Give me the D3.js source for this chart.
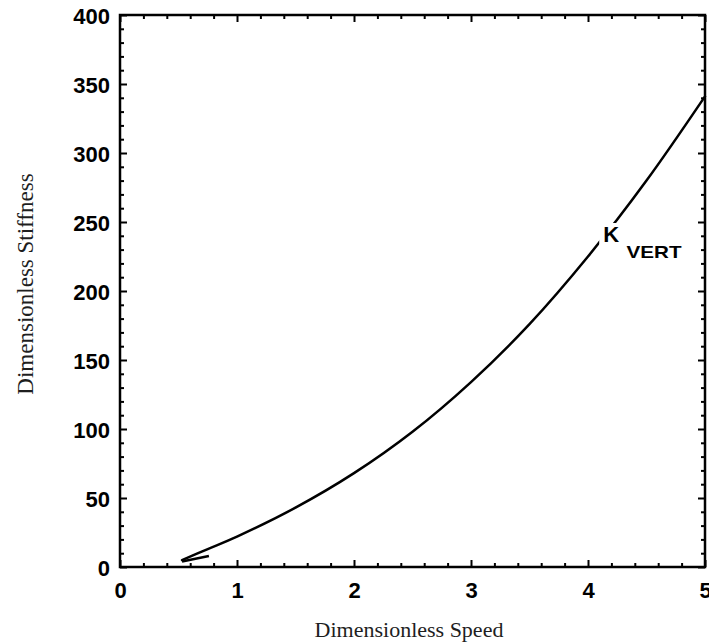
<!DOCTYPE html>
<html>
<head>
<meta charset="utf-8">
<script src="https://cdn.jsdelivr.net/npm/d3@7"></script>
<style>
  html, body { margin: 0; padding: 0; background: #fff; }
  svg { display: block; }
</style>
</head>
<body>
<div id="chart"></div>
<script>
// curve: dimensionless speed vs dimensionless stiffness
const speed = [0.53, 0.75, 1.0, 1.5, 2.0, 2.5, 3.0, 3.5, 4.0, 4.5, 5.0];
const stiffness = [5, 13, 22, 43, 68, 98, 134, 176, 225, 280, 341];

// little hook where the curve starts
const hookSpeed = [0.53, 0.76];
const hookStiff = [4, 8];

const xTicks = [0, 1, 2, 3, 4, 5];
const yTicks = [0, 50, 100, 150, 200, 250, 300, 350, 400];
const xMinorStep = 0.2;
const yMinorStep = 10;

const curveLabel = "K";
const curveLabelSub = "VERT";
const xTitle = "Dimensionless Speed";
const yTitle = "Dimensionless Stiffness";

const width = 709, height = 644;
const margin = { top: 15, right: 4, bottom: 77, left: 120 };
const innerW = width - margin.left - margin.right;
const innerH = height - margin.top - margin.bottom;

const svg = d3.select("#chart").append("svg")
  .attr("width", width)
  .attr("height", height);

const g = svg.append("g")
  .attr("transform", `translate(${margin.left},${margin.top})`);

const x = d3.scaleLinear().domain([0, 5]).range([0, innerW]);
const y = d3.scaleLinear().domain([0, 400]).range([innerH, 0]);

const xMinor = d3.range(0, 5 + 1e-9, xMinorStep).filter(v => Math.abs(v - Math.round(v)) > 1e-6);
const yMinor = d3.range(0, 400 + 1e-9, yMinorStep).filter(v => v % 50 !== 0);

const tickFont = "'Liberation Sans', Arial, sans-serif";

function styleAxis(sel) {
  sel.select(".domain").remove();
  sel.selectAll("line").attr("stroke", "#000").attr("stroke-width", 2);
  sel.selectAll("text")
    .attr("fill", "#000")
    .attr("font-family", tickFont)
    .attr("font-weight", "bold")
    .attr("font-size", "22px");
}

// major ticks with labels (inward)
g.append("g")
  .attr("transform", `translate(0,${innerH})`)
  .call(d3.axisBottom(x).tickValues(xTicks).tickSize(-7).tickPadding(15).tickFormat(d3.format("d")))
  .call(styleAxis);

g.append("g")
  .call(d3.axisLeft(y).tickValues(yTicks).tickSize(-7).tickPadding(10).tickFormat(d3.format("d")))
  .call(styleAxis)
  .selectAll("text").attr("dy", "0.4em");

// mirrored ticks on top and right
g.append("g")
  .call(d3.axisTop(x).tickValues(xTicks).tickSize(-7).tickFormat(""))
  .call(styleAxis);
g.append("g")
  .attr("transform", `translate(${innerW},0)`)
  .call(d3.axisRight(y).tickValues(yTicks).tickSize(-7).tickFormat(""))
  .call(styleAxis);

// minor ticks
g.append("g")
  .attr("transform", `translate(0,${innerH})`)
  .call(d3.axisBottom(x).tickValues(xMinor).tickSize(-4).tickFormat(""))
  .call(styleAxis);
g.append("g")
  .call(d3.axisTop(x).tickValues(xMinor).tickSize(-4).tickFormat(""))
  .call(styleAxis);
g.append("g")
  .call(d3.axisLeft(y).tickValues(yMinor).tickSize(-4).tickFormat(""))
  .call(styleAxis);
g.append("g")
  .attr("transform", `translate(${innerW},0)`)
  .call(d3.axisRight(y).tickValues(yMinor).tickSize(-4).tickFormat(""))
  .call(styleAxis);

// frame
g.append("rect")
  .attr("width", innerW)
  .attr("height", innerH)
  .attr("fill", "none")
  .attr("stroke", "#000")
  .attr("stroke-width", 2.5);

// curve
const line = d3.line()
  .x(d => x(d[0]))
  .y(d => y(d[1]))
  .curve(d3.curveCatmullRom.alpha(0.5));

g.append("path")
  .datum(d3.zip(speed, stiffness))
  .attr("fill", "none")
  .attr("stroke", "#000")
  .attr("stroke-width", 2.5)
  .attr("stroke-linecap", "round")
  .attr("d", line);

g.append("path")
  .datum(d3.zip(hookSpeed, hookStiff))
  .attr("fill", "none")
  .attr("stroke", "#000")
  .attr("stroke-width", 2.5)
  .attr("d", d3.line().x(d => x(d[0])).y(d => y(d[1])));

// K_VERT label, sitting on the curve with a white gap behind the K
const labelG = g.append("g");
const kText = labelG.append("text")
  .attr("x", x(4.13))
  .attr("y", y(235.5))
  .attr("font-family", tickFont)
  .attr("font-weight", "bold")
  .attr("font-size", "22px")
  .attr("fill", "#000")
  .text(curveLabel);
const kb = kText.node().getBBox();
labelG.insert("rect", "text")
  .attr("x", kb.x - 4)
  .attr("y", kb.y + 1)
  .attr("width", kb.width + 5)
  .attr("height", kb.height + 3)
  .attr("fill", "#fff");

labelG.append("text")
  .attr("x", x(4.33))
  .attr("y", y(224))
  .attr("font-family", tickFont)
  .attr("font-weight", "bold")
  .attr("font-size", "17px")
  .attr("textLength", 55)
  .attr("lengthAdjust", "spacingAndGlyphs")
  .attr("fill", "#000")
  .text(curveLabelSub);

// axis titles
svg.append("text")
  .attr("x", 409)
  .attr("y", 637)
  .attr("text-anchor", "middle")
  .attr("font-family", "'Liberation Serif', 'Times New Roman', serif")
  .attr("font-size", "22px")
  .attr("fill", "#1e1e1e")
  .text(xTitle);

svg.append("text")
  .attr("transform", "translate(33,284) rotate(-90)")
  .attr("text-anchor", "middle")
  .attr("font-family", "'Liberation Serif', 'Times New Roman', serif")
  .attr("font-size", "23px")
  .attr("fill", "#1e1e1e")
  .text(yTitle);
</script>
</body>
</html>
